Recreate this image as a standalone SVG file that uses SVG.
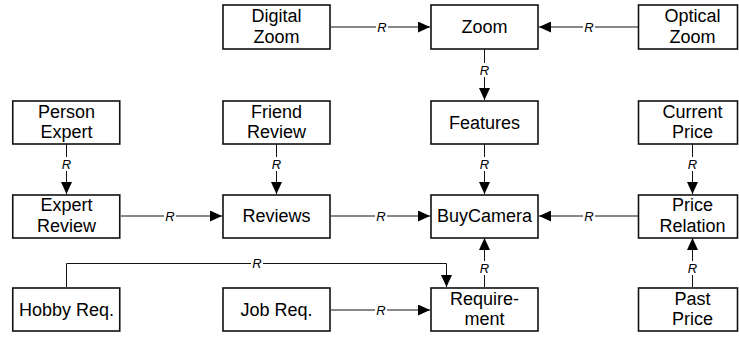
<svg xmlns="http://www.w3.org/2000/svg" width="739" height="338" viewBox="0 0 739 338">
  <defs>
    <marker id="arrow" viewBox="0 0 12 11" refX="12" refY="5.5" markerWidth="12" markerHeight="11" markerUnits="userSpaceOnUse" orient="auto">
      <path d="M0,0 L12,5.5 L0,11 Z" fill="#000"/>
    </marker>
    <style>
      .box { fill: #fff; stroke: #111; stroke-width: 1.6; }
      .lbl { font-family: "Liberation Sans", Arial, sans-serif; font-size: 18px; fill: #000; text-anchor: middle; }
      .edge { fill: none; stroke: #111; stroke-width: 1; marker-end: url(#arrow); }
      .rbg { fill: #fff; }
      .r { font-family: "Liberation Sans", Arial, sans-serif; font-size: 13px; font-style: italic; fill: #000; text-anchor: middle; }
    </style>
  </defs>
  <rect width="739" height="338" fill="#fff"/>

  <!-- connectors, each relation label sits on a small white patch that breaks the line -->
  <g id="connectors">
    <path class="edge" d="M331,27 H430"/>
    <rect class="rbg" x="376" y="20" width="12" height="14"/>
    <text class="r" x="382" y="31.5">R</text>
    <path class="edge" d="M638,27 H539"/>
    <rect class="rbg" x="583" y="20" width="12" height="14"/>
    <text class="r" x="589" y="31.5">R</text>
    <path class="edge" d="M484.5,49 V100"/>
    <rect class="rbg" x="478.5" y="63" width="12" height="14"/>
    <text class="r" x="484.5" y="74.5">R</text>

    <path class="edge" d="M66.5,144 V194"/>
    <rect class="rbg" x="60.5" y="157" width="12" height="14"/>
    <text class="r" x="66.5" y="168.5">R</text>
    <path class="edge" d="M276.5,144 V194"/>
    <rect class="rbg" x="270.5" y="157" width="12" height="14"/>
    <text class="r" x="276.5" y="168.5">R</text>
    <path class="edge" d="M484.5,144 V194"/>
    <rect class="rbg" x="478.5" y="157" width="12" height="14"/>
    <text class="r" x="484.5" y="168.5">R</text>
    <path class="edge" d="M692.5,144 V194"/>
    <rect class="rbg" x="686.5" y="157" width="12" height="14"/>
    <text class="r" x="692.5" y="168.5">R</text>

    <path class="edge" d="M121,216 H222"/>
    <rect class="rbg" x="164" y="209" width="12" height="14"/>
    <text class="r" x="170" y="220.5">R</text>
    <path class="edge" d="M331,216 H430"/>
    <rect class="rbg" x="375" y="209" width="12" height="14"/>
    <text class="r" x="381" y="220.5">R</text>
    <path class="edge" d="M638,216 H539"/>
    <rect class="rbg" x="583" y="209" width="12" height="14"/>
    <text class="r" x="589" y="220.5">R</text>

    <path class="edge" d="M484.5,287 V238"/>
    <rect class="rbg" x="478.5" y="261" width="12" height="14"/>
    <text class="r" x="484.5" y="272.5">R</text>
    <path class="edge" d="M692.5,287 V238"/>
    <rect class="rbg" x="686.5" y="261" width="12" height="14"/>
    <text class="r" x="692.5" y="272.5">R</text>

    <path class="edge" d="M66.5,287 V263.5 H446.5 V287"/>
    <rect class="rbg" x="251" y="257" width="12" height="13"/>
    <text class="r" x="257" y="268">R</text>
    <path class="edge" d="M331,310 H430"/>
    <rect class="rbg" x="375" y="303" width="12" height="14"/>
    <text class="r" x="381" y="314.5">R</text>
  </g>

  <!-- nodes -->
  <g id="digital-zoom">
    <rect class="box" x="223" y="5" width="107" height="44"/>
    <text class="lbl" x="276.5" y="22">Digital</text>
    <text class="lbl" x="276.5" y="42.5">Zoom</text>
  </g>
  <g id="zoom">
    <rect class="box" x="431" y="5" width="107" height="44"/>
    <text class="lbl" x="484.5" y="33.3">Zoom</text>
  </g>
  <g id="optical-zoom">
    <rect class="box" x="638.5" y="5" width="99" height="44"/>
    <text class="lbl" x="692.5" y="22">Optical</text>
    <text class="lbl" x="692.5" y="42.5">Zoom</text>
  </g>

  <g id="person-expert">
    <rect class="box" x="12.75" y="101" width="107" height="43"/>
    <text class="lbl" x="66.5" y="117.5">Person</text>
    <text class="lbl" x="66.5" y="138">Expert</text>
  </g>
  <g id="friend-review">
    <rect class="box" x="223" y="101" width="107" height="43"/>
    <text class="lbl" x="276.5" y="117.5">Friend</text>
    <text class="lbl" x="276.5" y="138">Review</text>
  </g>
  <g id="features">
    <rect class="box" x="431" y="101" width="107" height="43"/>
    <text class="lbl" x="484.5" y="128.5">Features</text>
  </g>
  <g id="current-price">
    <rect class="box" x="638.5" y="101" width="99" height="43"/>
    <text class="lbl" x="692.5" y="117.5">Current</text>
    <text class="lbl" x="692.5" y="138">Price</text>
  </g>

  <g id="expert-review">
    <rect class="box" x="12.75" y="195" width="107" height="43"/>
    <text class="lbl" x="66.5" y="211">Expert</text>
    <text class="lbl" x="66.5" y="231.5">Review</text>
  </g>
  <g id="reviews">
    <rect class="box" x="223" y="195" width="107" height="43"/>
    <text class="lbl" x="276.5" y="222">Reviews</text>
  </g>
  <g id="buy-camera">
    <rect class="box" x="431" y="195" width="107" height="43"/>
    <text class="lbl" x="484.5" y="222">BuyCamera</text>
  </g>
  <g id="price-relation">
    <rect class="box" x="638.5" y="195" width="99" height="43"/>
    <text class="lbl" x="692.5" y="211">Price</text>
    <text class="lbl" x="692.5" y="231.5">Relation</text>
  </g>

  <g id="hobby-req">
    <rect class="box" x="12.75" y="288" width="107" height="43"/>
    <text class="lbl" x="66.5" y="315.5">Hobby Req.</text>
  </g>
  <g id="job-req">
    <rect class="box" x="223" y="288" width="107" height="43"/>
    <text class="lbl" x="276.5" y="315.5">Job Req.</text>
  </g>
  <g id="requirement">
    <rect class="box" x="431" y="288" width="107" height="43"/>
    <text class="lbl" x="484.5" y="304.5">Require-</text>
    <text class="lbl" x="484.5" y="325">ment</text>
  </g>
  <g id="past-price">
    <rect class="box" x="638.5" y="288" width="99" height="43"/>
    <text class="lbl" x="692.5" y="304.5">Past</text>
    <text class="lbl" x="692.5" y="325">Price</text>
  </g>
</svg>
